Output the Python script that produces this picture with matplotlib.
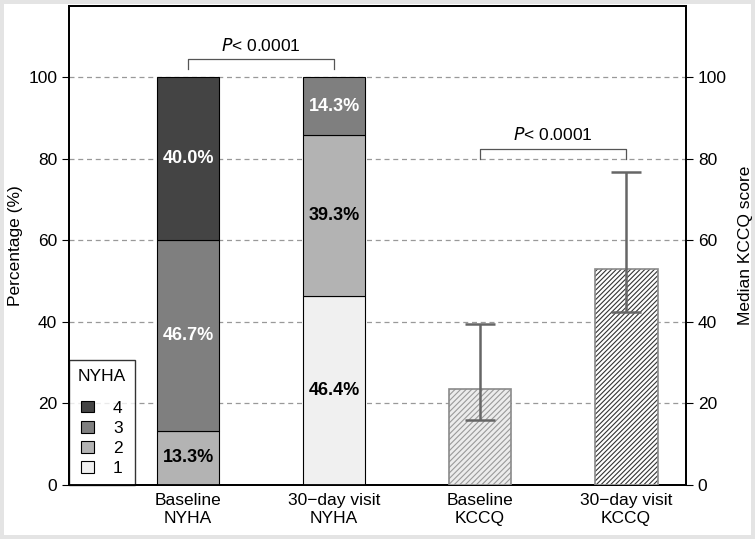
import numpy as np
import matplotlib
matplotlib.use("Agg")
import matplotlib.pyplot as plt
from matplotlib.patches import Patch

plt.rcParams['font.family'] = ['Liberation Sans', 'DejaVu Sans']
plt.rcParams['hatch.linewidth'] = 0.8

# NYHA class shares (%) per visit
nyha_groups = ["Baseline\nNYHA", "30\u2212day visit\nNYHA"]
nyha_classes = ["1", "2", "3", "4"]
nyha_baseline = [0.0, 13.3, 46.7, 40.0]
nyha_30day = [46.4, 39.3, 14.3, 0.0]
nyha_colors = ["#f0f0f0", "#b3b3b3", "#7f7f7f", "#444444"]
nyha_text_colors = ["black", "black", "white", "white"]

# KCCQ medians with IQR
kccq_groups = ["Baseline\nKCCQ", "30\u2212day visit\nKCCQ"]
kccq_median = [23.5, 53.0]
kccq_q1 = [15.9, 42.4]
kccq_q3 = [39.5, 76.8]

p_text = "< 0.0001"

fig = plt.figure(figsize=(7.55, 5.39), dpi=100)
fig.patch.set_edgecolor("#e4e4e4")
fig.patch.set_linewidth(4.5)
ax = fig.add_axes([0.0914, 0.1002, 0.8172, 0.8887])
ax2 = ax.twinx()

w = 0.43
pos = [1, 2, 3, 4]

for gi, vals in enumerate([nyha_baseline, nyha_30day]):
    bottom = 0
    for ci, v in enumerate(vals):
        if v <= 0:
            continue
        ax.bar(pos[gi], v, w, bottom=bottom, color=nyha_colors[ci],
               edgecolor="black", linewidth=0.8, zorder=3)
        ax.text(pos[gi], bottom + v / 2, f"{v:.1f}%", ha="center", va="center",
                fontsize=13, fontweight="bold", color=nyha_text_colors[ci], zorder=4)
        bottom += v

# KCCQ bars on right axis
hatch_faces = ["#ececec", "white"]
hatches = ["//////", "///////"]
hatch_edges = ["#9a9a9a", "#333333"]
for i in range(2):
    ax2.bar(pos[2 + i], kccq_median[i], w, color=hatch_faces[i],
            edgecolor=hatch_edges[i], hatch=hatches[i], linewidth=0, zorder=3)
    ax2.bar(pos[2 + i], kccq_median[i], w, color="none", edgecolor="#8a8a8a",
            linewidth=1.2, zorder=3)
    ax2.errorbar(pos[2 + i], kccq_median[i],
                 yerr=[[kccq_median[i] - kccq_q1[i]], [kccq_q3[i] - kccq_median[i]]],
                 fmt="none", ecolor="#666666", elinewidth=1.8, capsize=11,
                 capthick=1.8, zorder=4)

ax.set_xlim(0.185, 4.41)
ax.set_ylim(0, 117.4)
ax2.set_ylim(0, 117.4)
ax.set_yticks([0, 20, 40, 60, 80, 100])
ax2.set_yticks([0, 20, 40, 60, 80, 100])
ax.set_xticks(pos)
ax.set_xticklabels(nyha_groups + kccq_groups, fontsize=12.5)
ax.tick_params(axis="x", length=0, pad=6)
ax.tick_params(axis="y", labelsize=12.5, direction="out", length=5)
ax2.tick_params(axis="y", labelsize=12.5, direction="out", length=5)
ax.set_ylabel("Percentage (%)", fontsize=12.5)
ax2.set_ylabel("Median KCCQ score", fontsize=12.5, labelpad=8)

for y in [20, 40, 60, 80, 100]:
    ax.axhline(y, color="#999999", linestyle=(0, (4, 3)), linewidth=0.9, zorder=1)

for a in (ax, ax2):
    for s in a.spines.values():
        s.set_linewidth(1.3)

# significance brackets
def bracket(x1, x2, y, h):
    ax.plot([x1, x1, x2, x2], [y - h, y, y, y - h], color="#555555",
            linewidth=0.9, clip_on=False, zorder=5)
    ax.text((x1 + x2) / 2, y + 1.4, r"$\it{P}$" + p_text, ha="center",
            va="bottom", fontsize=12.5)

bracket(1, 2, 104.3, 2.4)
bracket(3, 4, 82.3, 2.4)

handles = [Patch(facecolor=nyha_colors[i], edgecolor="black", linewidth=0.8)
           for i in [3, 2, 1, 0]]
leg = ax.legend(handles, ["4", "3", "2", "1"], title="NYHA", loc="lower left",
                fontsize=12.5, title_fontsize=12.5, frameon=True, fancybox=False,
                edgecolor="black", handlelength=0.75, handleheight=0.65,
                labelspacing=0.3, borderpad=0.5, handletextpad=1.1,
                borderaxespad=0)
leg.get_frame().set_linewidth(1.0)
leg._legend_box.align = "center"
leg._legend_box.sep = 12

fig.savefig("out.png", dpi=100)
